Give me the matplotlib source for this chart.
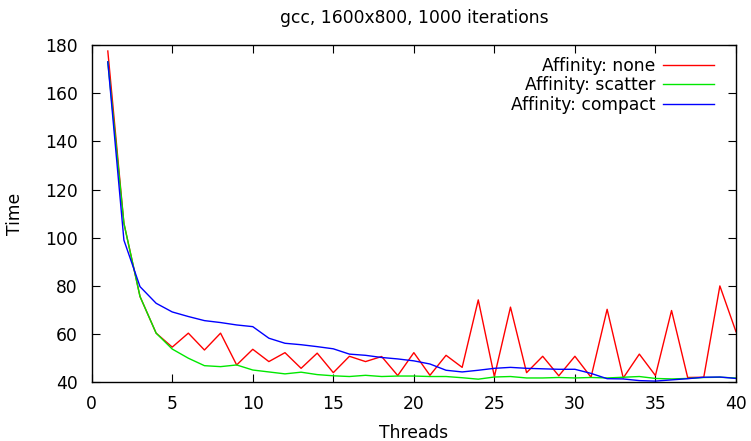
import matplotlib
matplotlib.use("Agg")
import matplotlib.pyplot as plt

threads = list(range(1, 41))
none_t = [177.5, 106, 75.6, 60.4, 54.6, 60.4, 53.4, 60.4, 47.2, 53.7,
          48.6, 52.3, 45.8, 52.1, 44.0, 50.8, 48.6, 50.7, 42.8, 52.3,
          42.9, 51.2, 46.2, 74.2, 42.4, 71.2, 44.0, 50.8, 42.7, 50.8,
          42.1, 70.3, 41.8, 51.7, 42.8, 69.8, 42.0, 42.1, 80.0, 61.0]
scatter_t = [173, 106, 75.6, 60.4, 53.8, 50.0, 46.9, 46.5, 47.2, 45.1,
             44.3, 43.5, 44.2, 43.2, 42.7, 42.4, 42.9, 42.4, 42.6, 42.6,
             42.4, 42.4, 41.9, 41.3, 42.2, 42.4, 41.8, 41.8, 42.0, 41.8,
             42.0, 41.8, 42.1, 42.4, 41.6, 41.4, 41.6, 42.0, 42.1, 41.8]
compact_t = [173, 99, 79.7, 72.8, 69.2, 67.3, 65.6, 64.8, 63.8, 63.1,
             58.3, 56.2, 55.6, 54.8, 53.9, 51.7, 51.2, 50.3, 49.7, 48.9,
             47.6, 45.0, 44.3, 45.0, 45.8, 46.2, 45.8, 45.6, 45.4, 45.4,
             43.7, 41.5, 41.4, 40.7, 40.5, 41.0, 41.5, 42.1, 42.2, 41.6]
labels = ["Affinity: none", "Affinity: scatter", "Affinity: compact"]
colors = ["#ff0000", "#00e800", "#0000ff"]

FS = 12.3
fig = plt.figure(figsize=(7.51, 4.41), dpi=100)
ax = fig.add_axes([0.1221, 0.1331, 0.980 - 0.1221, 0.898 - 0.1331])
for ys, lab, c in zip([none_t, scatter_t, compact_t], labels, colors):
    ax.plot(threads, ys, color=c, lw=1.0, label=lab)

ax.set_xlim(0, 40)
ax.set_ylim(40, 180)
ax.set_xticks(range(0, 41, 5))
ax.set_yticks(range(40, 181, 20))
ax.tick_params(direction="in", top=True, right=True, length=6, labelsize=FS)
ax.tick_params(axis="x", pad=9)
ax.tick_params(axis="y", pad=10)
for s in ax.spines.values():
    s.set_linewidth(1.0)
ax.set_xlabel("Threads", fontsize=FS, labelpad=8)
ax.set_ylabel("Time", fontsize=FS, labelpad=15)
ax.set_title("gcc, 1600x800, 1000 iterations", fontsize=FS, pad=16)
leg = ax.legend(loc="upper right", frameon=False, markerfirst=False, fontsize=FS,
                handlelength=3.0, handletextpad=0.45, labelspacing=0.08,
                borderaxespad=0.0, bbox_to_anchor=(0.977, 0.985))
for t in leg.get_texts():
    t.set_ha("right")
fig.savefig("out.png", dpi=100)
